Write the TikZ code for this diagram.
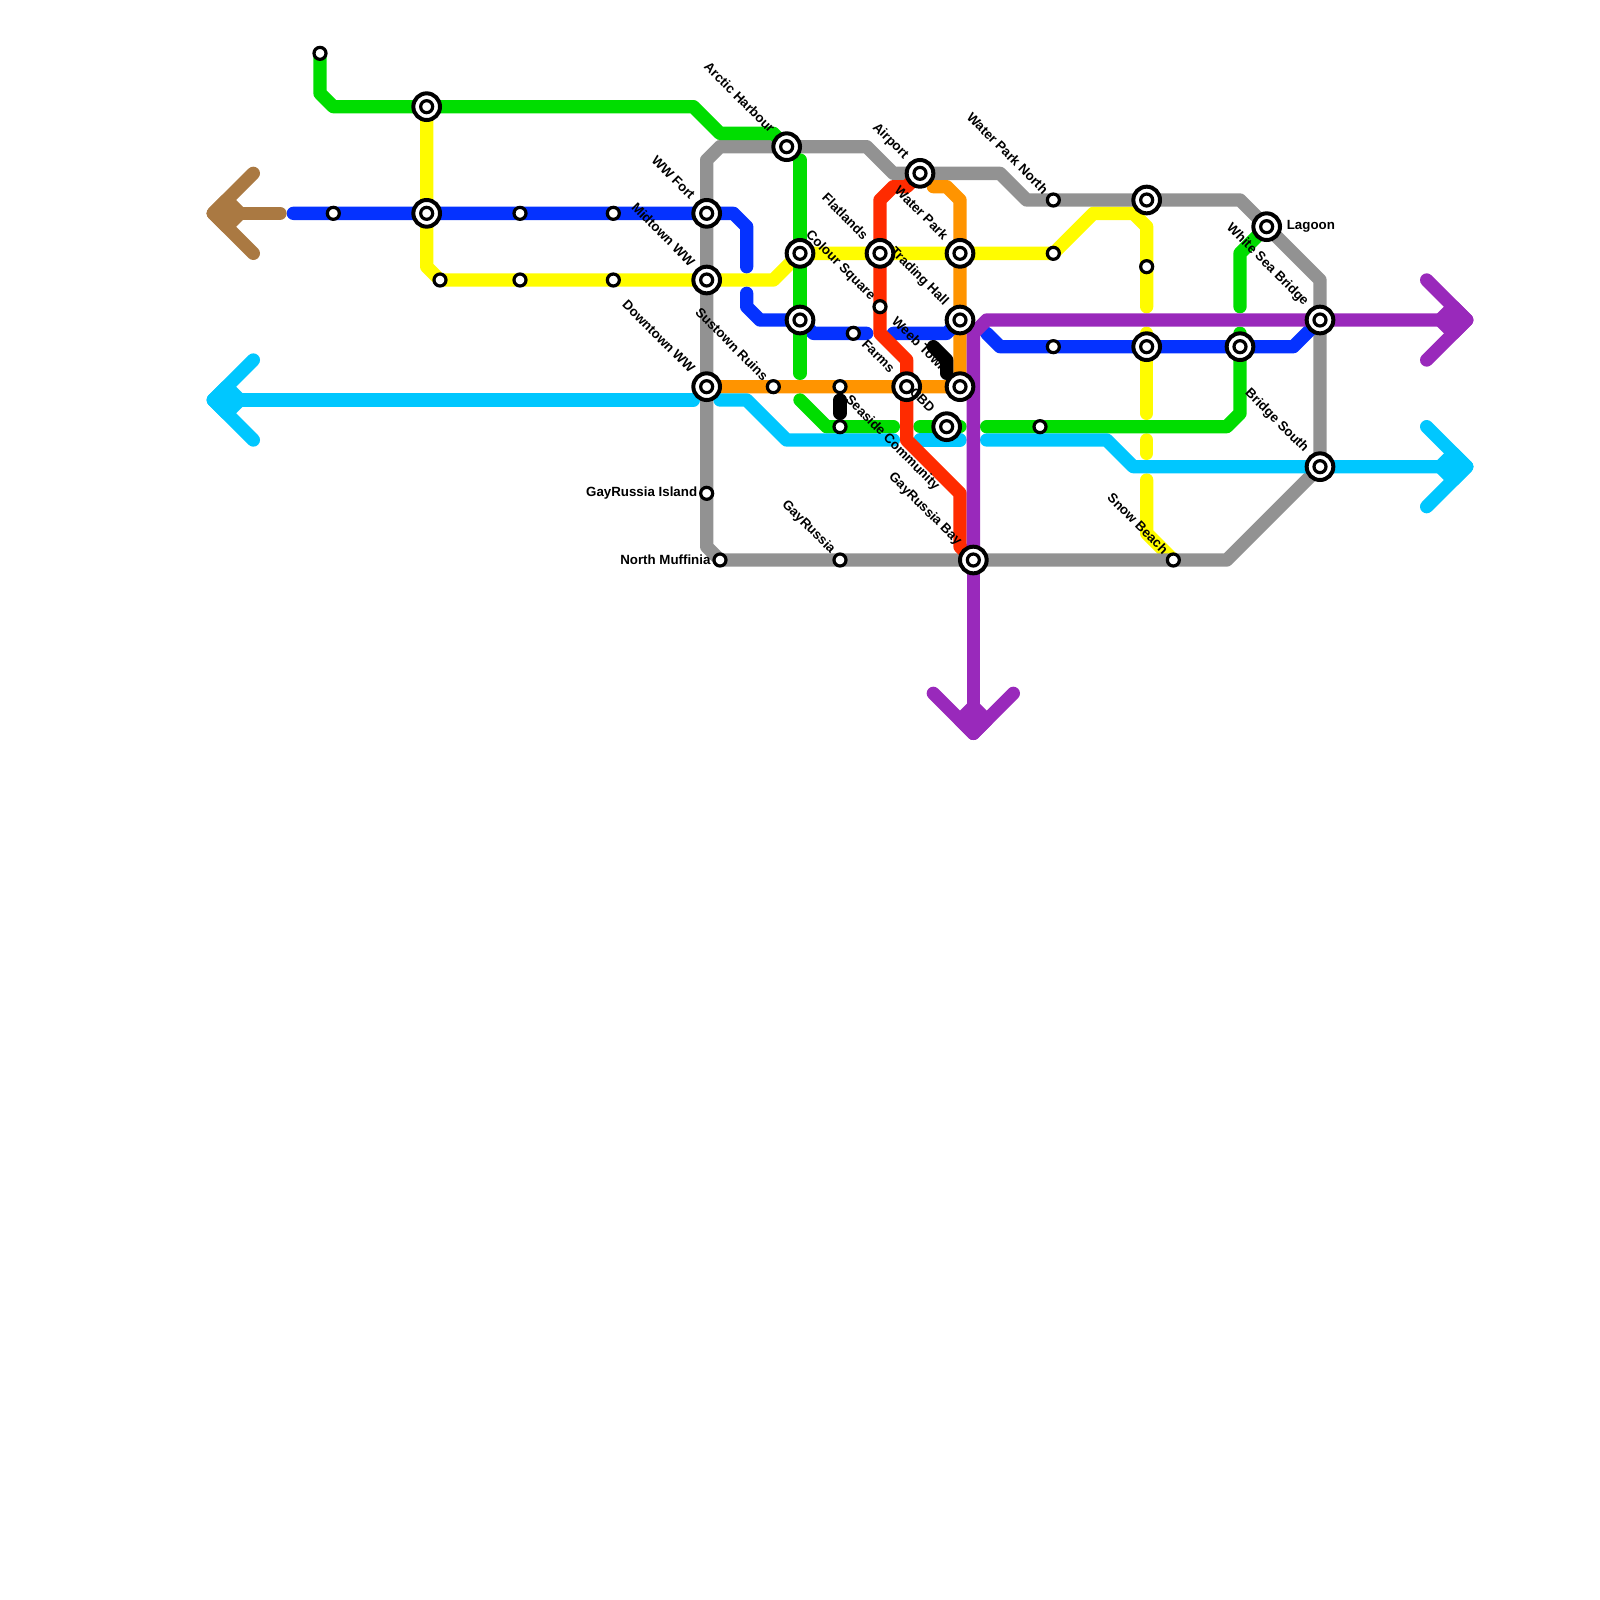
\documentclass[tikz,border=0pt]{standalone}
\usepackage{fontspec}
\setmainfont{Liberation Sans}
\definecolor{mgreen}{RGB}{0,221,0}
\definecolor{myellow}{RGB}{255,252,0}
\definecolor{mred}{RGB}{255,43,0}
\definecolor{morange}{RGB}{255,148,0}
\definecolor{mgrey}{RGB}{146,146,146}
\definecolor{mcyan}{RGB}{0,199,255}
\definecolor{mpurple}{RGB}{153,41,187}
\definecolor{mbrown}{RGB}{170,121,66}
\definecolor{mblue}{RGB}{5,50,255}
\tikzset{
  metro/.style={line width=0.5cm,line cap=round,line join=round},
  hub/.style={circle,draw=black,fill=white,line width=0.15cm,minimum size=1.0cm,inner sep=0pt,
    path picture={\draw[black,line width=0.12cm] (path picture bounding box.center) circle (0.225cm);}},
  halt/.style={circle,draw=black,fill=white,line width=0.12cm,minimum size=0.45cm,inner sep=0pt},
  lab/.style={font=\fontsize{14.2pt}{16pt}\selectfont\bfseries,text=black,inner sep=0pt},
  labw/.style={lab,rotate=-45,anchor=east},
  labe/.style={lab,rotate=-45,anchor=west},
  hublab/.style={shift={(-1.04,-1.22)},labw},
  haltlab/.style={shift={(-0.54,-0.63)},labw}
}
\begin{document}
\begin{tikzpicture}[x=0.5cm,y=-0.5cm]
\useasboundingbox (0,0) rectangle (120,120);
% station positions
\foreach \n/\p in {nA/{24,4},nB/{32,8},nC/{32,16},nD/{25,16},nE/{33,21},nF/{39,16},nG/{46,16},nH/{39,21},nI/{46,21},
  nJ/{53,16},nK/{53,21},nL/{53,29},nM/{53,37},nN/{54,42},nO/{59,11},nP/{60,19},nQ/{60,24},nR/{58,29},nS/{63,29},nT/{63,32},
  nU/{64,25},nV/{66,19},nW/{66,23},nX/{68,29},nY/{69,13},nZ/{71,32},
  mA/{72,19},mB/{72,24},mC/{72,29},mD/{63,42},mE/{73,42},mF/{78,32},mG/{79,15},mH/{79,19},mI/{79,26},
  mJ/{86,15},mK/{86,20},mL/{86,26},mM/{88,42},mN/{93,26},mO/{95,17},mP/{99,24},mQ/{99,35}}
  {\coordinate (\n) at (\p);}
% yellow
\draw[metro,myellow] (nB) -- (nC) -- (32,20) -- (nE) -- (nH) -- (nI) -- (nK) -- (58,21) -- (nP) -- (nV) -- (mA) -- (mH) -- (82,16) -- (85,16) -- (86,17) -- (mK) -- (86,23);
\draw[metro,myellow] (86,25) -- (mL) -- (86,31);
\draw[metro,myellow] (86,33) -- (86,34);
\draw[metro,myellow] (86,36) -- (86,40) -- (mM);
% grey
\draw[metro,mgrey] (nO) -- (65,11) -- (67,13) -- (nY) -- (75,13) -- (77,15) -- (mG) -- (mJ) -- (93,15) -- (mO) -- (99,21) -- (mP) -- (mQ) -- (92,42) -- (mM) -- (mE) -- (mD) -- (nN) -- (53,41) -- (nM) -- (nL) -- (nK) -- (nJ) -- (53,12) -- (54,11) -- cycle;
% orange
\draw[metro,morange] (nL) -- (nR) -- (nS) -- (nX) -- (mC) -- (mB) -- (mA) -- (72,15) -- (71,14) -- (70,14);
% blue
\draw[metro,mblue] (22,16) -- (nD) -- (nC) -- (nF) -- (nG) -- (nJ) -- (55,16) -- (56,17) -- (56,20);
\draw[metro,mblue] (56,22) -- (56,23) -- (57,24) -- (nQ) -- (61,25) -- (nU) -- (65,25);
\draw[metro,mblue] (67,25) -- (71,25) -- (mB);
\draw[metro,mblue] (74,25) -- (75,26) -- (mI) -- (mL) -- (mN) -- (97,26) -- (mP);
% green
\draw[metro,mgreen] (nA) -- (24,7) -- (25,8) -- (nB) -- (52,8) -- (54,10) -- (58,10) -- (nO);
\draw[metro,mgreen] (60,12) -- (nP) -- (nQ) -- (60,28);
\draw[metro,mgreen] (60,30) -- (62,32) -- (nT) -- (67,32);
\draw[metro,mgreen] (69,32) -- (nZ) -- (72,32);
\draw[metro,mgreen] (74,32) -- (mF) -- (92,32) -- (93,31) -- (mN) -- (93,25);
\draw[metro,mgreen] (93,23) -- (93,19) -- (mO);
% cyan
\draw[metro,mcyan] (19,27) -- (16,30) -- (19,33);
\fill[mcyan,metro,draw=mcyan] (16,30) -- (17,29) -- (18,30) -- (17,31) -- cycle;
\draw[metro,mcyan] (16,30) -- (52,30);
\draw[metro,mcyan] (54,30) -- (56,30) -- (59,33) -- (67,33);
\draw[metro,mcyan] (69,33) -- (72,33);
\draw[metro,mcyan] (74,33) -- (83,33) -- (85,35) -- (mQ) -- (110,35);
\draw[metro,mcyan] (107,32) -- (110,35) -- (107,38);
\fill[mcyan,metro,draw=mcyan] (110,35) -- (109,34) -- (108,35) -- (109,36) -- cycle;
% red
\draw[metro,mred] (nY) -- (68,14) -- (67,14) -- (66,15) -- (nV) -- (nW) -- (66,25) -- (68,27) -- (nX) -- (68,33) -- (72,37) -- (72,41) -- (mE);
% brown
\draw[metro,mbrown] (19,13) -- (16,16) -- (19,19);
\fill[mbrown,metro,draw=mbrown] (16,16) -- (17,15) -- (18,16) -- (17,17) -- cycle;
\draw[metro,mbrown] (16,16) -- (21,16);
% purple
\draw[metro,mpurple] (mE) -- (73,55);
\draw[metro,mpurple] (mE) -- (73,25) -- (74,24) -- (mP) -- (110,24);
\draw[metro,mpurple] (70,52) -- (73,55) -- (76,52);
\fill[mpurple,metro,draw=mpurple] (73,55) -- (72,54) -- (73,53) -- (74,54) -- cycle;
\draw[metro,mpurple] (107,21) -- (110,24) -- (107,27);
\fill[mpurple,metro,draw=mpurple] (110,24) -- (109,23) -- (108,24) -- (109,25) -- cycle;
% black
\draw[metro,black] (70,26) -- (71,27) -- (71,28);
\draw[metro,black] (63,30) -- (63,31);
% stations
\foreach \n in {nB,nC,nJ,nK,nL,nO,nP,nQ,nV,nX,nY,nZ,mA,mB,mC,mE,mJ,mL,mN,mO,mP,mQ}
  \node[hub] (st\n) at (\n) {};
\foreach \n in {nA,nD,nE,nF,nG,nH,nI,nM,nN,nR,nS,nT,nU,nW,mD,mF,mG,mH,mI,mK,mM}
  \node[halt] (st\n) at (\n) {};
% labels
\node[hublab] (l1) at (nO) {Arctic Harbour};
\node[hublab] (l2) at (nY) {Airport};
\node[haltlab] (l3) at (mG) {Water Park North};
\node[hublab] (l4) at (nJ) {WW Fort};
\node[hublab] (l5) at (nK) {Midtown WW};
\node[hublab] (l6) at (nL) {Downtown WW};
\node[haltlab] (l7) at (nR) {Sustown Ruins};
\node[hublab] (l8) at (nV) {Flatlands};
\node[hublab] (l9) at (mA) {Water Park};
\node[hublab] (l10) at (mB) {Trading Hall};
\node[haltlab] (l11) at (nW) {Colour Square};
\node[hublab] (l12) at (nX) {Farms};
\node[hublab] (l13) at (mC) {Weeb Town};
\node[hublab] (l14) at (nZ) {CBD};
\node[shift={(0.53,0.85)},labe] (l15) at (nS) {Seaside Community};
\node[hublab] (l16) at (mE) {GayRussia Bay};
\node[haltlab] (l17) at (mD) {GayRussia};
\node[haltlab] (l18) at (mM) {Snow Beach};
\node[hublab] (l19) at (mP) {White Sea Bridge};
\node[hublab] (l20) at (mQ) {Bridge South};
\node[lab,anchor=west] (l21) at (96.5,17) {Lagoon};
\node[lab,anchor=east] (l22) at (52.3,37) {GayRussia Island};
\node[lab,anchor=east] (l23) at (53.3,42) {North Muffinia};
\end{tikzpicture}
\end{document}
